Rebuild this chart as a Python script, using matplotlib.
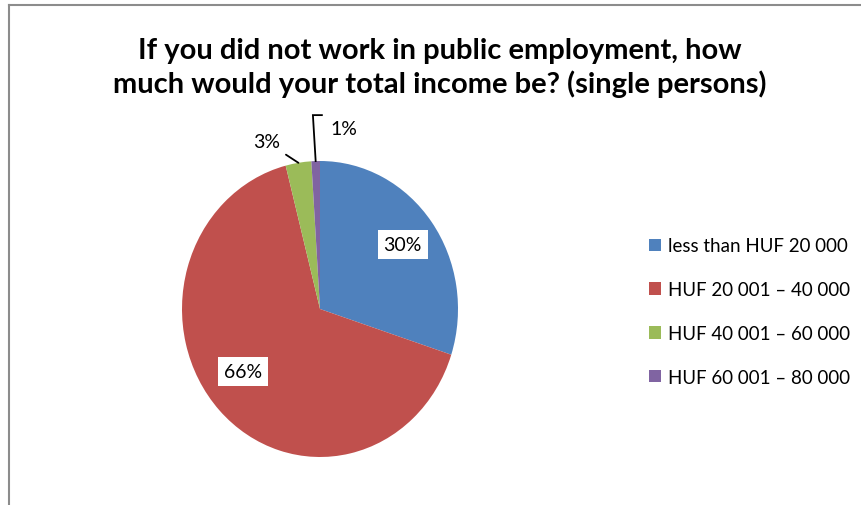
import numpy as np
import matplotlib.pyplot as plt
from matplotlib.patches import Patch
from matplotlib.lines import Line2D

plt.rcParams['font.family'] = ['Lato', 'DejaVu Sans']

categories = ['less than HUF 20 000', 'HUF 20 001 \u2013 40 000',
              'HUF 40 001 \u2013 60 000', 'HUF 60 001 \u2013 80 000']
shares = [30, 66, 3, 1]
colors = ['#4F81BD', '#C0504D', '#9BBB59', '#8064A2']
title = ('If you did not work in public employment, how\n'
         'much would your total income be? (single persons)')

W, H = 861, 506
fig = plt.figure(figsize=(W / 100, H / 100), dpi=100)

# frame around the chart area (only top and left edges show)
fig.add_artist(Line2D([9 / W, 9 / W], [0, 1 - 6 / H], color='#8c8c8c', lw=1.5))
fig.add_artist(Line2D([9 / W, 1], [1 - 6 / H, 1 - 6 / H], color='#8c8c8c', lw=1.5))

fig.text(440 / W, 1 - 68 / H, title, ha='center', va='center',
         fontsize=21, fontweight='bold', linespacing=1.3, color='black')

# pie: centre (320, 310) px, slightly squeezed horizontally
cx, cy, rx, ry = 320, 310, 138, 148
ax = fig.add_axes([(cx - rx) / W, (H - cy - ry) / H, 2 * rx / W, 2 * ry / H])
wedges, _ = ax.pie(shares, colors=colors, startangle=90, counterclock=False,
                   radius=1.0, wedgeprops=dict(linewidth=0))
ax.set_aspect('auto')
ax.set_xlim(-1, 1)
ax.set_ylim(-1, 1)
ax.axis('off')

def mid(w, rr=1.0, shift=0.0):
    a = np.deg2rad((w.theta1 + w.theta2) / 2 + shift)
    return rr * np.cos(a), rr * np.sin(a)

box = dict(boxstyle='square,pad=0.3', fc='white', ec='none')
lab_kw = dict(fontsize=14, color='black', ha='center', va='center')

# inner labels
for w, v, rr, sh in [(wedges[0], shares[0], 0.74, 0), (wedges[1], shares[1], 0.7, -6)]:
    ax.text(*mid(w, rr, sh), f'{v}%', bbox=box, **lab_kw)

# 3% with straight leader
ax.annotate(f'{shares[2]}%', xy=mid(wedges[2]), xytext=(-0.39, 1.13),
            arrowprops=dict(arrowstyle='-', color='black', lw=1.3,
                            shrinkA=3, shrinkB=0), annotation_clip=False,
            **lab_kw)

# 1% with elbow leader
x, y = mid(wedges[3])
ax.plot([x, x - 0.02, x + 0.045], [y, 1.31, 1.31], color='black', lw=1.3,
        clip_on=False, solid_joinstyle='miter')
ax.text(0.17, 1.22, f'{shares[3]}%', **lab_kw)

handles = [Patch(facecolor=c, edgecolor='none') for c in colors]
fig.legend(handles, categories, loc='upper left',
           bbox_to_anchor=(640 / W, 1 - 229 / H), frameon=False,
           fontsize=13.5, handlelength=0.64, handleheight=0.64,
           handletextpad=0.38, labelspacing=1.43, borderpad=0)

fig.savefig('out.png', dpi=100)
